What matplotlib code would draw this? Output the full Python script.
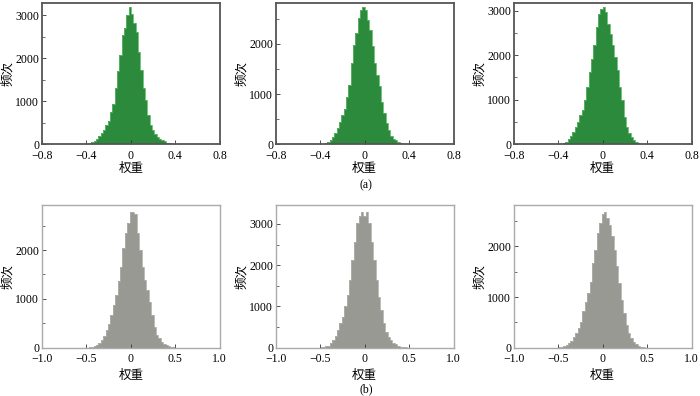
import numpy as np
import matplotlib.pyplot as plt
from matplotlib.ticker import MultipleLocator, FixedLocator, FixedFormatter

plt.rcParams['font.family'] = ['Liberation Serif', 'Noto Sans CJK SC']
plt.rcParams['axes.unicode_minus'] = True

# bin counts (left to right)
top1 = [3, 6, 10, 25, 40, 70, 110, 180, 260, 340, 440, 540, 740, 940, 1300, 1690, 2080, 2530, 2700, 3000,
        3180, 3020, 2820, 2610, 2150, 1720, 1300, 1020, 680, 450, 320, 230, 170, 130, 100, 65, 35, 20, 10, 5, 2]
top2 = [2, 5, 12, 27, 50, 80, 145, 225, 325, 445, 580, 710, 945, 1180, 1610, 1980, 2210, 2510, 2680,
        2730, 2680, 2480, 2280, 1950, 1610, 1380, 1160, 845, 615, 425, 280, 160, 105, 80, 45, 25, 12, 6, 2]
top3 = [2, 5, 10, 25, 50, 105, 180, 275, 390, 500, 650, 760, 1000, 1280, 1620, 1920, 2220, 2630, 2925, 3040,
        3075, 2960, 2700, 2480, 2220, 1955, 1660, 1280, 985, 610, 390, 240, 150, 90, 50, 22, 8, 3]
bot1 = [3, 8, 20, 35, 55, 100, 160, 240, 360, 490, 670, 880, 1080, 1360, 1660, 2040, 2350, 2550,
        2780, 2780, 2730, 2350, 2010, 1660, 1390, 1185, 945, 670, 430, 260, 190, 120, 75, 45, 25, 12, 5, 2]
bot2 = [3, 8, 15, 30, 50, 105, 185, 280, 430, 605, 750, 1010, 1280, 1640, 2130, 2570, 3020, 3180,
        3290, 3180, 3280, 3020, 2570, 2130, 1640, 1240, 915, 590, 390, 265, 185, 120, 80, 50, 25, 12, 5, 2]
bot3 = [3, 8, 15, 30, 45, 85, 140, 205, 285, 385, 515, 715, 910, 1075, 1305, 1670, 1935, 2265, 2460, 2630,
        2680, 2560, 2430, 2200, 1935, 1605, 1275, 945, 680, 450, 285, 185, 120, 75, 40, 20, 8, 3]

# first bin edge and bin width of each histogram
top_starts = [-0.44, -0.42, -0.42]
bot_starts = [-0.50, -0.5265, -0.5255]
top_width = 0.021
bot_width = 0.027

top_ticks = [-0.8, -0.4, 0, 0.4, 0.8]
top_ticklabels = ['\u22120.8', '\u22120.4', '0', '0.4', '0.8']
bot_ticks = [-1.0, -0.5, 0, 0.5, 1.0]
bot_ticklabels = ['\u22121.0', '\u22120.5', '0', '0.5', '1.0']

fig = plt.figure(figsize=(7, 3.96), dpi=100)

lefts = [0.06, 0.394, 0.734]
w = 0.254


def draw(ax, counts, start, bw, face, edge, spine, ticks, labels, xlim, pad, xpad):
    counts = np.array(counts)
    edges = start + bw * np.arange(len(counts) + 1)
    ax.stairs(counts, edges, fill=True, color=face, linewidth=0)
    ax.stairs(counts, edges, fill=False, color=edge, linewidth=0.6)
    ax.set_xlim(*xlim)
    ax.set_ylim(0, counts.max() * pad)
    ax.xaxis.set_major_locator(FixedLocator(ticks))
    ax.xaxis.set_major_formatter(FixedFormatter(labels))
    ax.yaxis.set_major_locator(MultipleLocator(1000))
    ax.yaxis.set_minor_locator(MultipleLocator(500))
    ax.tick_params(direction='in', length=3, width=0.6, labelsize=8.5, pad=2, color='#333333')
    ax.tick_params(axis='x', pad=4)
    ax.tick_params(which='minor', direction='in', length=2, width=0.5, color='#333333')
    for s in ax.spines.values():
        s.set_color(spine)
    ax.set_xlabel('权重', fontsize=9, family=['Noto Sans CJK SC'], labelpad=xpad)
    ax.set_ylabel('频次', fontsize=9, family=['Noto Sans CJK SC'], labelpad=1)


for i, data in enumerate([top1, top2, top3]):
    ax = fig.add_axes([lefts[i], 0.636, w, 0.356])
    draw(ax, data, top_starts[i], top_width, '#2b8a3c', '#5cb865', '#555555',
         top_ticks, top_ticklabels, (-0.8, 0.8), 1.03, 0)
    for s in ax.spines.values():
        s.set_linewidth(1.3)

for i, data in enumerate([bot1, bot2, bot3]):
    ax = fig.add_axes([lefts[i], 0.122, w, 0.360])
    draw(ax, data, bot_starts[i], bot_width, '#999994', '#b0b0ab', '#aaaaaa',
         bot_ticks, bot_ticklabels, (-1.0, 1.0), 1.05, 3)
    for s in ax.spines.values():
        s.set_linewidth(1.0)

fig.text(0.523, 0.533, '(a)', ha='center', va='center', fontsize=8.5)
fig.text(0.523, 0.017, '(b)', ha='center', va='center', fontsize=8.5)

fig.savefig('out.png', dpi=100)
